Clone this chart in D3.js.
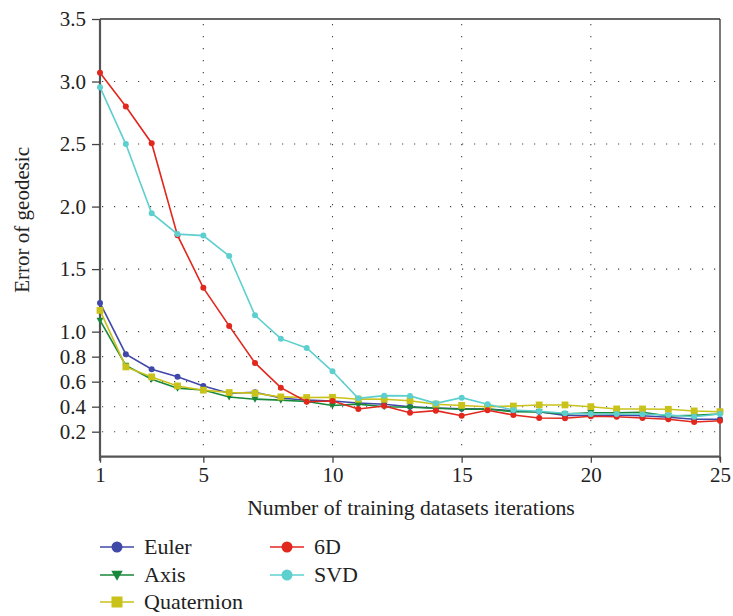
<!DOCTYPE html>
<html><head><meta charset="utf-8">
<script src="https://cdn.jsdelivr.net/npm/d3@7"></script>
<style>body{margin:0;background:#fff}svg{display:block}svg text{font-family:"Liberation Serif","DejaVu Serif",serif !important;fill:#222}</style>
</head><body>
<script>
const iterations = [1,2,3,4,5,6,7,8,9,10,11,12,13,14,15,16,17,18,19,20,21,22,23,24,25];
const euler = [1.23,0.82,0.70,0.64,0.566,0.507,0.515,0.47,0.452,0.445,0.43,0.42,0.40,0.39,0.384,0.381,0.368,0.36,0.33,0.33,0.333,0.328,0.315,0.30,0.30];
const axisS = [1.09,0.73,0.62,0.548,0.534,0.478,0.46,0.452,0.441,0.41,0.42,0.40,0.395,0.387,0.379,0.381,0.36,0.358,0.342,0.352,0.352,0.355,0.326,0.331,0.342];
const quaternion = [1.17,0.718,0.638,0.566,0.532,0.513,0.508,0.478,0.473,0.475,0.46,0.459,0.448,0.42,0.41,0.40,0.405,0.414,0.414,0.40,0.382,0.382,0.379,0.366,0.36];
const sixD = [3.07,2.80,2.507,1.77,1.35,1.046,0.75,0.552,0.44,0.445,0.381,0.405,0.352,0.368,0.328,0.371,0.334,0.31,0.307,0.323,0.32,0.31,0.30,0.278,0.288];
const svd = [2.955,2.50,1.947,1.78,1.768,1.605,1.131,0.944,0.87,0.683,0.467,0.488,0.486,0.427,0.472,0.419,0.374,0.363,0.347,0.342,0.342,0.339,0.333,0.32,0.342];
const xTicks = [1,5,10,15,20,25];
const yTicks = [0.2,0.4,0.6,0.8,1.0,1.5,2.0,2.5,3.0,3.5];
const seriesNames = ["Euler","Axis","Quaternion","6D","SVD"];
const seriesColors = ["#4048a8","#17873a","#c8c21a","#e0281e","#5ecfcf"];
const seriesShapes = ["circle","triangle","square","hex","hex"];

const W=733,H=616;
const L=100,R=720,T=19,B=456.7;
const svg=d3.select("body").append("svg").attr("width",W).attr("height",H);
const x=d3.scaleLinear().domain([1,25]).range([L,R]);
const y=d3.scaleLinear().domain([0,3.5]).range([B,T]);

// grid
const grid=svg.append("g").attr("stroke","#444").attr("stroke-width",1.1).attr("stroke-dasharray","1.2 10.8");
grid.selectAll("line.h").data(yTicks.filter(v=>v<3.5)).join("line")
  .attr("x1",L+2).attr("x2",R).attr("y1",d=>y(d)).attr("y2",d=>y(d));
grid.selectAll("line.v").data(xTicks.filter(v=>v>1&&v<25)).join("line").attr("class","v")
  .attr("y1",T+5).attr("y2",B).attr("x1",d=>x(d)).attr("x2",d=>x(d));

// frame top/right
svg.append("line").attr("x1",L).attr("x2",R).attr("y1",T).attr("y2",T).attr("stroke","#333").attr("stroke-width",1.3);
svg.append("line").attr("x1",R).attr("x2",R).attr("y1",T).attr("y2",B+4).attr("stroke","#333").attr("stroke-width",1.3);

// axes
const xAxis=svg.append("g").attr("transform",`translate(0,${B})`)
  .call(d3.axisBottom(x).tickValues(xTicks).tickSize(6).tickPadding(4).tickFormat(d3.format("d")));
const yAxis=svg.append("g").attr("transform",`translate(${L},0)`)
  .call(d3.axisLeft(y).tickValues(yTicks).tickSize(8).tickPadding(6).tickFormat(d3.format(".1f")));
[xAxis,yAxis].forEach(a=>{
  a.attr("font-size",null).attr("font-family",null);
  a.select(".domain").attr("stroke","#555").attr("stroke-width",2.2);
  a.selectAll(".tick line").attr("stroke","#444").attr("stroke-width",1.3);
  a.selectAll(".tick text").style("font-size","21px").attr("fill","#222");
});
yAxis.select(".domain").attr("d",`M0,${B+4}V${T}`);
xAxis.select(".domain").attr("d",`M${L},0H${R}`);

svg.append("text").attr("x",(L+R)/2+1).attr("y",515).attr("text-anchor","middle").style("font-size","21.7px")
  .text("Number of training datasets iterations");
svg.append("text").attr("transform",`translate(29,${(T+B)/2-18}) rotate(-90)`).attr("text-anchor","middle").style("font-size","21px")
  .text("Error of geodesic");

const data=[euler,axisS,quaternion,sixD,svd];
const line=d3.line().x((d,i)=>x(iterations[i])).y(d=>y(d));

function marker(g,shape,color,s){
  if(shape==="circle") g.append("circle").attr("r",s).attr("fill",color);
  else if(shape==="square") g.append("rect").attr("x",-s).attr("y",-s).attr("width",2*s).attr("height",2*s).attr("fill",color);
  else if(shape==="triangle") g.append("path").attr("d",`M${-s*1.1},${-s*0.8}L${s*1.1},${-s*0.8}L0,${s*1.1}Z`).attr("fill",color);
  else g.append("path").attr("d",d3.symbol(d3.symbolCircle,Math.PI*s*s)()).attr("fill",color);
}

data.forEach((vals,k)=>{
  const g=svg.append("g");
  g.append("path").datum(vals).attr("d",line).attr("fill","none").attr("stroke",seriesColors[k]).attr("stroke-width",1.6);
  vals.forEach((v,i)=>{
    const m=g.append("g").attr("transform",`translate(${x(iterations[i])},${y(v)})`);
    const s = seriesShapes[k]==="square"?3.4:(seriesShapes[k]==="triangle"?3.2:3);
    marker(m,seriesShapes[k],seriesColors[k],s);
  });
});

// legend
const legPos=[[100,547],[100,575],[100,602],[270,547],[270,575]];
seriesNames.forEach((n,k)=>{
  const [lx,ly]=legPos[k];
  const g=svg.append("g").attr("transform",`translate(${lx},${ly})`);
  g.append("line").attr("x1",0).attr("x2",34).attr("stroke",seriesColors[k]).attr("stroke-width",1.6);
  const m=g.append("g").attr("transform","translate(17,0)");
  const s = seriesShapes[k]==="square"?5.5:(seriesShapes[k]==="triangle"?5.2:5.5);
  marker(m,seriesShapes[k],seriesColors[k],s);
  g.append("text").attr("x",44).attr("y",7).style("font-size","22px").text(n);
});
</script>
</body></html>
